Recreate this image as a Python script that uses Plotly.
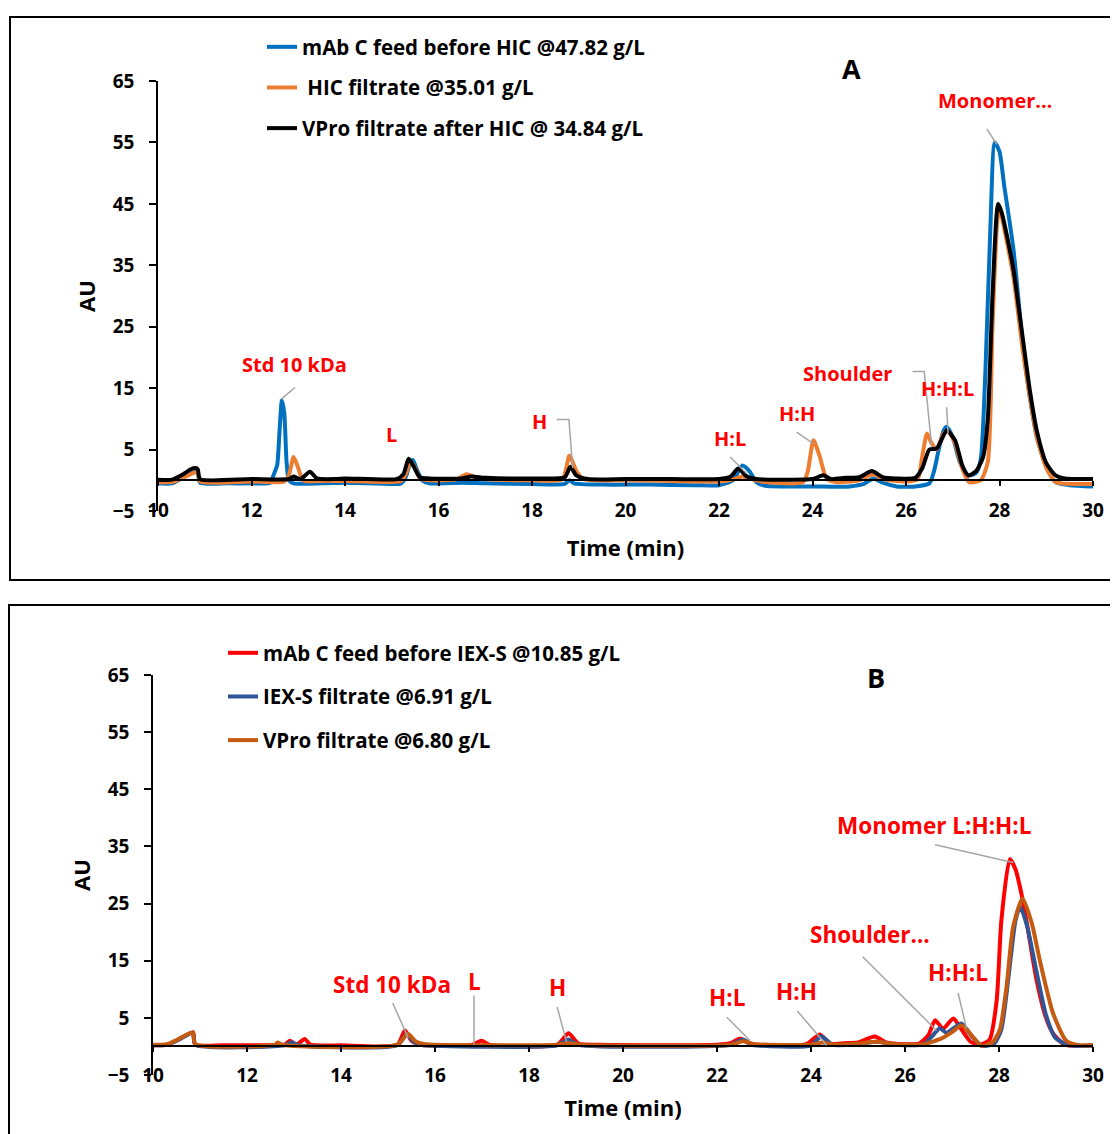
import plotly.graph_objects as go

W, H = 1118, 1134
OFF = 8  # page body margin of the html file
FONT = "Open Sans"

# ---------------- Panel A data (Time in min, AU) ----------------
a_names = ["mAb C feed before HIC @47.82 g/L", " HIC filtrate @35.01 g/L",
           "VPro filtrate after HIC @ 34.84 g/L"]
a_colors = ["#0070C0", "#ED7D31", "#000000"]

a_blue_t = [10.0, 10.3, 10.5, 10.7, 10.8, 10.85, 10.9, 11.5, 12.0, 12.4, 12.48, 12.55, 12.6, 12.65,
            12.7, 12.75, 12.8, 12.9, 13.5, 14.0, 14.5, 15.2, 15.3, 15.4, 15.45, 15.55, 15.65, 15.8,
            16.5, 17.0, 18.0, 18.7, 18.8, 18.9, 19.5, 20.5, 21.5, 22.0, 22.3, 22.5, 22.65, 22.8,
            23.0, 24.0, 24.8, 25.1, 25.3, 25.5, 25.8, 26.2, 26.5, 26.6, 26.7, 26.8, 26.87, 27.0,
            27.15, 27.33, 27.5, 27.6, 27.7, 27.8, 27.9, 28.0, 28.1, 28.3, 28.5, 28.65, 28.8, 29.0,
            29.2, 29.5, 30.0]
a_blue_au = [-0.5, -0.5, 0.3, 1.1, 1.4, 1.3, -0.4, -0.5, -0.5, -0.4, 1.0, 2.5, 8.0, 13.0,
             11.0, 3.0, 0.0, -0.5, -0.5, -0.4, -0.5, -0.5, 0.5, 3.0, 3.3, 1.5, 0.0, -0.5,
             -0.4, -0.5, -0.6, -0.6, 0.0, -0.5, -0.7, -0.7, -0.8, -0.8, 0.0, 2.4, 1.5, -0.3,
             -0.9, -1.0, -1.0, -0.6, 0.3, -0.4, -1.0, -1.0, -0.5, 1.5, 5.0, 8.0, 8.7, 7.0,
             3.0, 0.8, 1.2, 3.5, 18.0, 40.0, 55.0, 53.5, 48.0, 37.5, 22.0, 13.5, 7.0, 2.2,
             -0.3, -0.8, -1.0]

a_orange_t = [10.0, 10.3, 10.5, 10.7, 10.8, 10.85, 10.9, 12.0, 12.7, 12.8, 12.9, 13.0, 13.1, 13.5,
              14.0, 15.2, 15.3, 15.4, 15.5, 15.6, 15.8, 16.4, 16.6, 16.8, 17.0, 18.0, 18.65, 18.8,
              18.95, 19.1, 20.0, 21.0, 22.0, 22.3, 22.5, 22.7, 23.0, 23.8, 23.9, 24.02, 24.15, 24.3,
              24.5, 25.0, 25.3, 25.5, 26.0, 26.25, 26.35, 26.45, 26.55, 26.66, 26.8, 26.9, 27.05,
              27.2, 27.35, 27.6, 27.75, 27.85, 27.95, 28.0, 28.1, 28.3, 28.5, 28.65, 28.8, 29.0,
              29.2, 29.5, 30.0]
a_orange_au = [-0.3, -0.3, 0.3, 1.0, 1.3, 1.2, -0.2, -0.2, -0.2, 0.8, 3.8, 2.0, 0.0, -0.1,
               -0.1, -0.1, 1.0, 3.0, 2.0, 0.3, 0.0, 0.2, 1.0, 0.5, 0.2, 0.0, 0.2, 4.0,
               1.5, 0.2, 0.0, -0.1, -0.2, 0.1, 0.6, 0.2, -0.3, -0.3, 1.5, 6.5, 4.0, 0.3,
               -0.3, 0.0, 1.0, 0.2, -0.2, 0.2, 4.0, 7.6, 6.0, 5.0, 7.6, 8.0, 6.0,
               2.0, -0.3, 0.0, 3.0, 25.0, 42.0, 44.5, 41.0, 33.0, 21.0, 13.5, 7.0, 2.0,
               -0.3, -0.6, -0.6]

a_black_t = [10.0, 10.3, 10.5, 10.7, 10.8, 10.85, 10.9, 12.0, 12.8, 12.9, 13.05, 13.25, 13.4, 13.8,
             14.0, 15.1, 15.25, 15.36, 15.45, 15.6, 15.8, 16.5, 16.7, 17.0, 18.0, 18.7, 18.82,
             18.95, 19.2, 20.0, 21.0, 22.0, 22.25, 22.41, 22.6, 22.8, 23.5, 24.0, 24.23, 24.4,
             24.7, 25.0, 25.27, 25.5, 25.8, 26.2, 26.35, 26.5, 26.66, 26.87, 27.05, 27.2, 27.33,
             27.5, 27.65, 27.75, 27.85, 27.97, 28.05, 28.29, 28.5, 28.65, 28.8, 29.0, 29.2, 29.4,
             30.0]
a_black_au = [0.1, 0.1, 0.8, 1.8, 2.0, 1.8, 0.2, 0.2, 0.2, 0.6, 0.2, 1.4, 0.3, 0.2,
              0.3, 0.2, 1.0, 3.5, 2.5, 0.5, 0.3, 0.3, 0.6, 0.4, 0.3, 0.5, 2.2,
              0.8, 0.2, 0.2, 0.2, 0.2, 0.6, 1.9, 0.6, 0.2, 0.1, 0.2, 0.8, 0.2,
              0.4, 0.5, 1.5, 0.5, 0.3, 0.4, 2.0, 5.0, 5.2, 8.1, 6.5, 2.5, 0.8,
              1.5, 3.8, 10.0, 30.0, 45.0, 43.5, 34.7, 23.0, 14.6, 8.0, 2.8, 0.8, 0.3,
              0.2]

# ---------------- Panel B data ----------------
b_names = ["mAb C feed before IEX-S @10.85 g/L", "IEX-S filtrate @6.91 g/L",
           "VPro filtrate @6.80 g/L"]
b_colors = ["#FF0000", "#2F5597", "#C55A11"]

b_red_t = [10.0, 10.3, 10.5, 10.7, 10.85, 10.9, 11.5, 12.5, 12.8, 12.91, 13.05, 13.23, 13.35, 14.0,
           15.2, 15.36, 15.5, 15.7, 16.8, 16.99, 17.15, 18.6, 18.84, 19.05, 19.5, 22.0, 22.3,
           22.49, 22.7, 23.9, 24.19, 24.4, 24.8, 25.0, 25.36, 25.6, 26.0, 26.3, 26.5, 26.64,
           26.81, 27.03, 27.2, 27.4, 27.6, 27.8, 27.95, 28.05, 28.23, 28.35, 28.52, 28.8, 29.0,
           29.15, 29.4, 30.0]
b_red_au = [0.2, 0.3, 1.0, 1.9, 2.5, 0.3, 0.2, 0.2, 0.3, 1.0, 0.3, 1.3, 0.3, 0.2,
            0.3, 2.8, 1.0, 0.3, 0.3, 1.0, 0.3, 0.3, 2.3, 0.5, 0.3, 0.3, 0.6,
            1.4, 0.5, 0.4, 2.1, 0.5, 0.6, 0.7, 1.75, 0.7, 0.4, 0.5, 2.0, 4.6,
            3.1, 4.9, 3.0, 0.8, 0.3, 1.2, 8.0, 22.0, 32.8, 31.0, 25.0, 11.6, 5.0,
            2.3, 0.3, 0.2]

b_blue_t = [10.0, 10.3, 10.5, 10.7, 10.85, 10.9, 12.8, 12.95, 13.1, 15.2, 15.4, 15.55, 15.7, 18.6,
            18.84, 19.05, 22.3, 22.55, 22.75, 24.0, 24.22, 24.45, 25.0, 25.4, 25.8, 26.4, 26.6,
            26.74, 26.88, 27.2, 27.4, 27.63, 27.9, 28.05, 28.2, 28.35, 28.45, 28.6, 28.8, 29.0,
            29.2, 29.5, 30.0]
b_blue_au = [0.2, 0.3, 1.0, 1.9, 2.4, 0.3, 0.2, 0.7, 0.2, 0.2, 2.2, 0.8, 0.3, 0.2,
             1.2, 0.3, 0.3, 1.2, 0.3, 0.2, 1.8, 0.3, 0.4, 0.8, 0.3, 0.4, 2.0,
             3.2, 2.4, 4.0, 2.0, 0.1, 0.5, 3.0, 12.0, 22.0, 24.5, 21.0, 13.0, 5.5,
             1.5, 0.2, 0.1]

b_brown_t = [10.0, 10.3, 10.5, 10.7, 10.85, 10.9, 12.6, 12.65, 12.75, 15.2, 15.42, 15.6, 15.8, 18.6,
             18.85, 19.1, 22.3, 22.55, 22.8, 24.0, 24.25, 24.5, 25.0, 25.4, 25.8, 26.4, 26.8,
             27.0, 27.2, 27.35, 27.63, 27.87, 28.02, 28.16, 28.3, 28.5, 28.7, 28.87, 29.15, 29.43,
             29.7, 30.0]
b_brown_au = [0.3, 0.4, 1.1, 2.0, 2.4, 0.4, 0.3, 0.7, 0.3, 0.3, 2.2, 0.8, 0.4, 0.3,
              0.6, 0.3, 0.3, 0.9, 0.4, 0.3, 0.7, 0.3, 0.5, 0.8, 0.4, 0.4, 1.5,
              2.5, 3.7, 2.6, 0.1, 0.8, 3.0, 10.4, 20.9, 25.9, 21.5, 15.0, 5.8, 1.0,
              0.2, 0.2]

x_ticks = [10, 12, 14, 16, 18, 20, 22, 24, 26, 28, 30]
y_ticks = [-5, 5, 15, 25, 35, 45, 55, 65]
y_range = [-5, 65]
x_range = [10, 30]

# Peak labels: (text, text x, text y, leader path points)
a_labels = [
    ("Std 10 kDa", 12.93, 18.9, [(12.93, 15.1), (12.65, 13.3)]),
    ("L", 15.0, 7.5, []),
    ("H", 18.17, 9.6, [(18.53, 9.9), (18.79, 9.9), (18.87, 1.95)]),
    ("H:L", 22.24, 6.8, [(22.24, 3.8), (22.59, 1.1)]),
    ("H:H", 23.67, 10.9, [(23.66, 7.85), (24.01, 6.0)]),
    ("Shoulder", 24.74, 17.4, [(26.14, 17.7), (26.39, 17.7), (26.55, 5.4)]),
    ("H:H:L", 26.88, 15.0, [(26.87, 11.9), (26.9, 7.6)]),
    ("Monomer…", 27.9, 61.8, [(27.73, 57.2), (27.94, 54.7)]),
]
b_labels = [
    ("Std 10 kDa", 15.09, 10.9, [(15.1, 7.6), (15.43, 1.5)]),
    ("L", 16.85, 11.4, [(16.83, 8.9), (16.83, 0.3)]),
    ("H", 18.6, 10.4, [(18.6, 6.9), (18.8, 0.75)]),
    ("H:L", 22.21, 8.6, [(22.21, 5.1), (22.7, 1.05)]),
    ("H:H", 23.70, 9.6, [(23.71, 6.2), (24.33, 0.2)]),
    ("Shoulder…", 25.26, 19.6, [(25.1, 15.7), (26.67, 2.8)]),
    ("H:H:L", 27.13, 13.0, [(27.13, 9.35), (27.31, 3.1)]),
    ("Monomer L:H:H:L", 26.62, 38.6, [(26.64, 35.3), (28.3, 32.2)]),
]


def px_x(px):
    return (px - OFF) / W


def px_y(py):
    return 1 - (py - OFF) / H


A_xdom = [px_x(158), px_x(1093)]
A_ydom = [px_y(511), px_y(81)]
B_xdom = [px_x(153), px_x(1093)]
B_ydom = [px_y(1075), px_y(675)]


def zero_pos(dom):
    return dom[0] + (0 - y_range[0]) / (y_range[1] - y_range[0]) * (dom[1] - dom[0])


fig = go.Figure()

a_series = [(a_blue_t, a_blue_au), (a_orange_t, a_orange_au), (a_black_t, a_black_au)]
for i, (t, v) in enumerate(a_series):
    fig.add_trace(go.Scatter(x=t, y=v, mode="lines", name=a_names[i],
                             line=dict(color=a_colors[i], width=4, shape="spline", smoothing=0.6),
                             xaxis="x", yaxis="y", legend="legend", legendgroup="a%d" % i))

b_series = [(b_red_t, b_red_au), (b_blue_t, b_blue_au), (b_brown_t, b_brown_au)]
for i, (t, v) in enumerate(b_series):
    fig.add_trace(go.Scatter(x=t, y=v, mode="lines", name=b_names[i],
                             line=dict(color=b_colors[i], width=4, shape="spline", smoothing=0.6),
                             xaxis="x2", yaxis="y2", legend="legend2", legendgroup="b%d" % i))

tickfont = dict(family=FONT, size=19, color="black", weight="bold")
titlefont = dict(family=FONT, size=22, color="black", weight="bold")


def xaxis_cfg(xdom, ydom, label_standoff, title_standoff):
    return dict(domain=xdom, range=x_range, anchor="free", position=zero_pos(ydom),
                showline=True, linecolor="black", linewidth=1.5,
                ticks="outside", ticklen=5, tickwidth=1.5, tickcolor="black",
                tickvals=x_ticks, tickfont=tickfont, ticklabelstandoff=label_standoff,
                showgrid=False, zeroline=False, automargin=False,
                title=dict(text="Time (min)", font=titlefont, standoff=title_standoff))


def yaxis_cfg(ydom, xref):
    return dict(domain=ydom, range=y_range, anchor=xref, showline=True, linecolor="black",
                linewidth=1.5, ticks="outside", ticklen=7, tickwidth=1.5, tickcolor="black",
                tickvals=y_ticks, tickfont=tickfont, showgrid=False, zeroline=False,
                ticklabelstandoff=11, automargin=False,
                title=dict(text="AU", font=titlefont, standoff=11))


shapes = []
annotations = []


def add_labels(labels, xr, yr, size):
    for text, tx, ty, pts in labels:
        annotations.append(dict(x=tx, y=ty, xref=xr, yref=yr, text=text, showarrow=False,
                                xanchor="center", yanchor="middle",
                                font=dict(family=FONT, size=size, color="#FF0000", weight="bold")))
        if pts:
            path = "M %f,%f" % pts[0] + "".join(" L %f,%f" % p for p in pts[1:])
            shapes.append(dict(type="path", path=path, xref=xr, yref=yr,
                               line=dict(color="#A6A6A6", width=1.5)))


add_labels(a_labels, "x", "y", 20)
add_labels(b_labels, "x2", "y2", 22.5)

for letter, lx, ly in [("A", 852, 68), ("B", 876, 677)]:
    annotations.append(dict(x=px_x(lx), y=px_y(ly), xref="paper", yref="paper", text=letter,
                            showarrow=False, xanchor="center", yanchor="middle",
                            font=dict(family=FONT, size=27, color="black", weight="bold")))

# panel frames
shapes.append(dict(type="rect", xref="paper", yref="paper", x0=px_x(10), x1=1.02,
                   y0=px_y(580), y1=px_y(17), line=dict(color="black", width=2)))
shapes.append(dict(type="rect", xref="paper", yref="paper", x0=1 / W, x1=1.02,
                   y0=-0.02, y1=px_y(605), line=dict(color="black", width=2)))

legfont = dict(family=FONT, size=20.5, color="black", weight="bold")

fig.update_layout(
    width=W, height=H, margin=dict(l=0, r=0, t=0, b=0, pad=0, autoexpand=False),
    paper_bgcolor="white", plot_bgcolor="white",
    xaxis=xaxis_cfg(A_xdom, A_ydom, 8, 18), yaxis=yaxis_cfg(A_ydom, "x"),
    xaxis2=xaxis_cfg(B_xdom, B_ydom, 7, 13), yaxis2=yaxis_cfg(B_ydom, "x2"),
    shapes=shapes, annotations=annotations,
    legend=dict(x=px_x(262), y=px_y(27), xanchor="left", yanchor="top", font=legfont,
                bgcolor="rgba(0,0,0,0)", tracegroupgap=11, traceorder="grouped"),
    legend2=dict(x=px_x(223), y=px_y(633), xanchor="left", yanchor="top", font=legfont,
                 bgcolor="rgba(0,0,0,0)", tracegroupgap=14, traceorder="grouped"),
    showlegend=True,
)

fig.write_html("out.html")
